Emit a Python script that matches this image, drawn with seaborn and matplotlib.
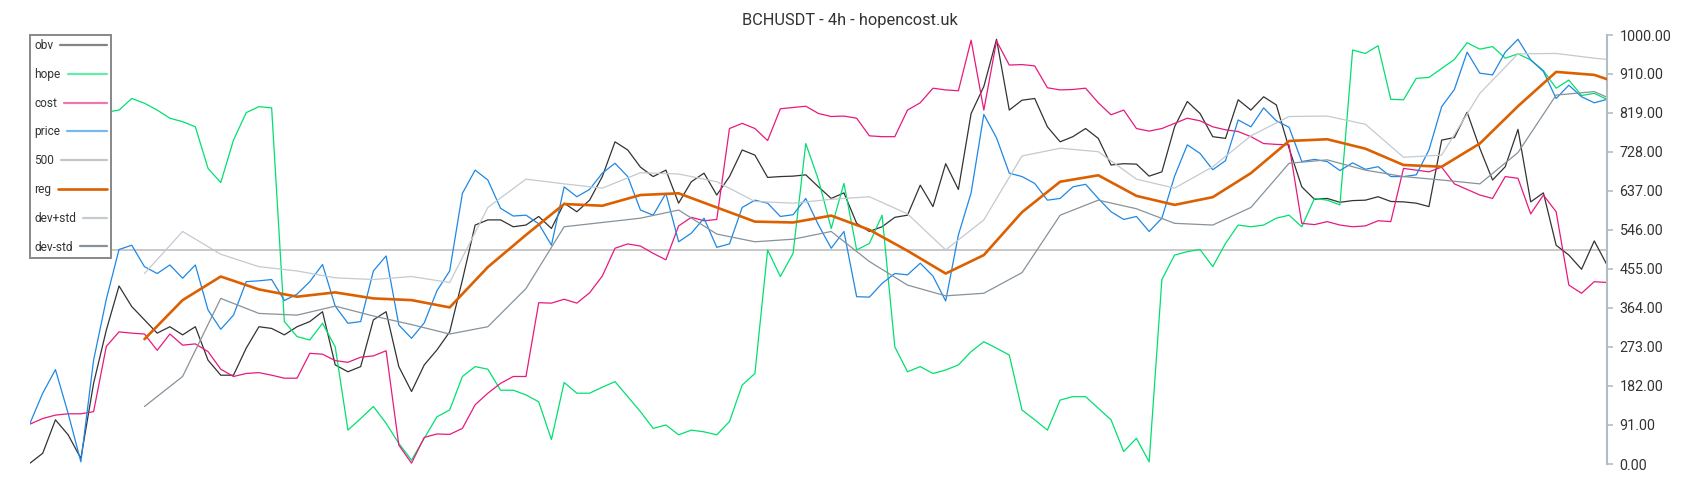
import numpy as np
import pandas as pd
import matplotlib
matplotlib.use("Agg")
import matplotlib.pyplot as plt
import seaborn as sns

# ---- data (one sample every two 4h bars) ----
obv = [2, 25, 103, 68, 13, 188, 312, 415, 367, 336, 305, 320, 301, 320, 242, 207, 207, 270,
       320, 316, 301, 320, 332, 355, 231, 215, 227, 336, 355, 227, 169, 231, 266, 308, 429, 557,
       569, 569, 553, 557, 577, 549, 608, 588, 615, 670, 751, 732, 692, 670, 685, 608, 658, 678,
       627, 670, 732, 720, 668, 670, 671, 674, 646, 619, 632, 561, 542, 553, 575, 580, 650, 600,
       700, 640, 817, 880, 990, 825, 848, 852, 786, 751, 763, 782, 759, 697, 700, 699, 671, 681,
       786, 845, 817, 763, 759, 849, 825, 856, 837, 736, 646, 617, 619, 610, 614, 615, 623, 612,
       611, 608, 600, 755, 761, 820, 736, 662, 693, 780, 611, 632, 510, 487, 454, 520, 464]

hope = [700, 745, 790, 815, 825, 815, 820, 825, 852, 841, 825, 806, 798, 786, 689, 656, 755, 819,
        833, 830, 332, 297, 289, 328, 273, 79, 106, 134, 95, 48, 9, 60, 110, 126, 204, 227,
        221, 172, 172, 161, 145, 57, 190, 165, 165, 179, 192, 157, 122, 83, 91, 68, 79, 75,
        68, 99, 184, 211, 499, 437, 491, 747, 662, 549, 654, 499, 514, 580, 273, 215, 227, 211,
        219, 231, 262, 285, 270, 254, 126, 103, 79, 149, 157, 157, 130, 103, 29, 60, 5, 430,
        487, 495, 500, 460, 514, 557, 553, 557, 573, 580, 553, 619, 615, 604, 965, 957, 975, 850,
        849, 899, 901, 922, 943, 982, 967, 973, 946, 956, 942, 917, 876, 895, 859, 864, 850]

cost = [93, 106, 114, 117, 117, 122, 274, 308, 305, 303, 265, 303, 277, 280, 262, 221, 204, 211,
        213, 207, 200, 200, 258, 256, 241, 237, 249, 252, 264, 44, 2, 62, 70, 69, 83, 138,
        165, 188, 204, 204, 376, 375, 384, 375, 399, 438, 503, 513, 508, 491, 476, 555, 575, 567,
        570, 782, 794, 782, 754, 828, 831, 834, 817, 810, 811, 806, 765, 763, 763, 825, 842, 876,
        872, 870, 988, 825, 986, 930, 931, 928, 877, 872, 873, 876, 842, 814, 825, 782, 776, 782,
        794, 806, 800, 786, 779, 775, 763, 747, 745, 744, 561, 558, 565, 557, 553, 555, 567, 565,
        689, 685, 681, 692, 653, 640, 627, 619, 670, 666, 583, 627, 588, 417, 398, 425, 423]

price = [95, 165, 220, 118, 5, 242, 384, 500, 510, 460, 444, 464, 433, 464, 359, 314, 347, 425,
         427, 430, 381, 396, 425, 465, 368, 328, 332, 450, 485, 324, 293, 329, 404, 450, 631, 685,
         662, 596, 578, 580, 560, 510, 646, 623, 640, 678, 701, 670, 592, 580, 631, 518, 538, 573,
         505, 513, 598, 615, 608, 577, 581, 619, 557, 503, 542, 390, 389, 421, 444, 441, 468, 438,
         380, 534, 632, 815, 760, 678, 670, 654, 615, 619, 646, 652, 619, 588, 570, 577, 542, 573,
         671, 744, 724, 686, 707, 802, 786, 830, 800, 785, 705, 710, 705, 684, 702, 687, 693, 670,
         670, 674, 732, 833, 873, 960, 911, 907, 960, 990, 942, 915, 852, 883, 856, 842, 850]

# smoothed series start later and are sampled more sparsely
smooth_bars = [9, 12, 15, 18, 21, 24, 27, 30, 33, 36, 39, 42, 45, 48, 51, 54, 57, 60, 63, 66,
               69, 72, 75, 78, 81, 84, 87, 90, 93, 96, 99, 102, 105, 108, 111, 114, 117, 120, 123, 124]
reg = [291, 382, 437, 407, 390, 400, 386, 382, 365, 459, 534, 606, 602, 627, 631, 598, 565, 563,
       579, 546, 497, 444, 487, 587, 658, 673, 625, 604, 622, 678, 753, 757, 735, 697, 693, 747,
       834, 914, 907, 897]
dev_plus = [444, 542, 489, 460, 450, 434, 430, 437, 423, 598, 664, 653, 643, 679, 676, 658, 612,
            608, 617, 623, 583, 499, 569, 718, 736, 728, 664, 643, 693, 765, 810, 811, 792, 715,
            720, 864, 956, 957, 946, 943]
dev_minus = [134, 204, 386, 351, 347, 368, 345, 325, 303, 320, 409, 553, 563, 573, 592, 536, 518,
             524, 542, 472, 417, 392, 398, 446, 580, 615, 595, 561, 557, 598, 701, 709, 685, 670,
             662, 653, 726, 860, 868, 855]

level = 500
tick_values = [0, 91, 182, 273, 364, 455, 546, 637, 728, 819, 910, 1000]
title = "BCHUSDT - 4h - hopencost.uk"

bars = np.arange(len(obv))

sns.set_style("white")
plt.rcParams["font.family"] = ["Roboto", "DejaVu Sans"]

fig = plt.figure(figsize=(17, 5), dpi=100)
ax = fig.add_axes([30 / 1700, 36 / 500, 1577 / 1700, 429 / 500])

thin = 0.9
sns.lineplot(x=bars, y=obv, ax=ax, color="#333333", lw=thin, label="obv")
sns.lineplot(x=bars, y=hope, ax=ax, color="#00e070", lw=thin, label="hope")
sns.lineplot(x=bars, y=cost, ax=ax, color="#e8197d", lw=thin, label="cost")
sns.lineplot(x=bars, y=price, ax=ax, color="#1e88e5", lw=thin, label="price")
ax.axhline(level, color="#c4c4c4", lw=1.3, label="500", zorder=1)
sns.lineplot(x=smooth_bars, y=reg, ax=ax, color="#dc6000", lw=1.9, label="reg", zorder=5)
sns.lineplot(x=smooth_bars, y=dev_plus, ax=ax, color="#c3cad0", lw=thin, label="dev+std")
sns.lineplot(x=smooth_bars, y=dev_minus, ax=ax, color="#87929b", lw=thin, label="dev-std")

ax.set_xlim(0, len(obv) - 1)
ax.set_ylim(0, 1000)
ax.set_xticks([])
ax.set_xlabel("")
ax.set_ylabel("")
ax.yaxis.tick_right()
ax.set_yticks(tick_values)
ax.set_yticklabels([f"{v:.2f}" for v in tick_values])
ax.tick_params(axis="y", right=True, direction="out", length=4, width=1.2,
               color="#b4bcc3", labelsize=10.3, labelcolor="#333333", pad=5)
for side in ["left", "top", "bottom"]:
    ax.spines[side].set_visible(False)
ax.spines["right"].set_color("#b4bcc3")
ax.spines["right"].set_linewidth(1.5)

leg = ax.legend(loc="upper left", bbox_to_anchor=(0, 1), borderaxespad=0,
                markerfirst=False, handlelength=2.0, handletextpad=0.6,
                labelspacing=1.32, fontsize=8.6, frameon=True, fancybox=False,
                borderpad=0.35, framealpha=1)
leg.get_frame().set_edgecolor("#888888")
leg.get_frame().set_linewidth(1.4)
for txt in leg.get_texts():
    txt.set_color("#333333")
for h in leg.legend_handles[:4]:
    h.set_alpha(0.6)
for h in leg.legend_handles:
    if h.get_label() != "reg":
        h.set_linewidth(1.6)

fig.text(0.5, 0.96, title, ha="center", va="center", fontsize=11.8, color="#333333")

# stretch legend handles so labels line up on the left and lines on the right
fig.canvas.draw()
renderer = fig.canvas.get_renderer()
rows = leg._legend_handle_box.get_children()[0].get_children()
widths = [r.get_children()[0].get_bbox(renderer).width for r in rows]
px_per_pt = renderer.points_to_pixels(1.0)
for r, w in zip(rows, widths):
    box = r.get_children()[1]
    box.width += (max(widths) - w) / px_per_pt
    for line in box.get_children():
        n = len(np.atleast_1d(line.get_ydata()))
        line.set_xdata(np.linspace(0, box.width, n))

fig.savefig("out.png", dpi=100)
